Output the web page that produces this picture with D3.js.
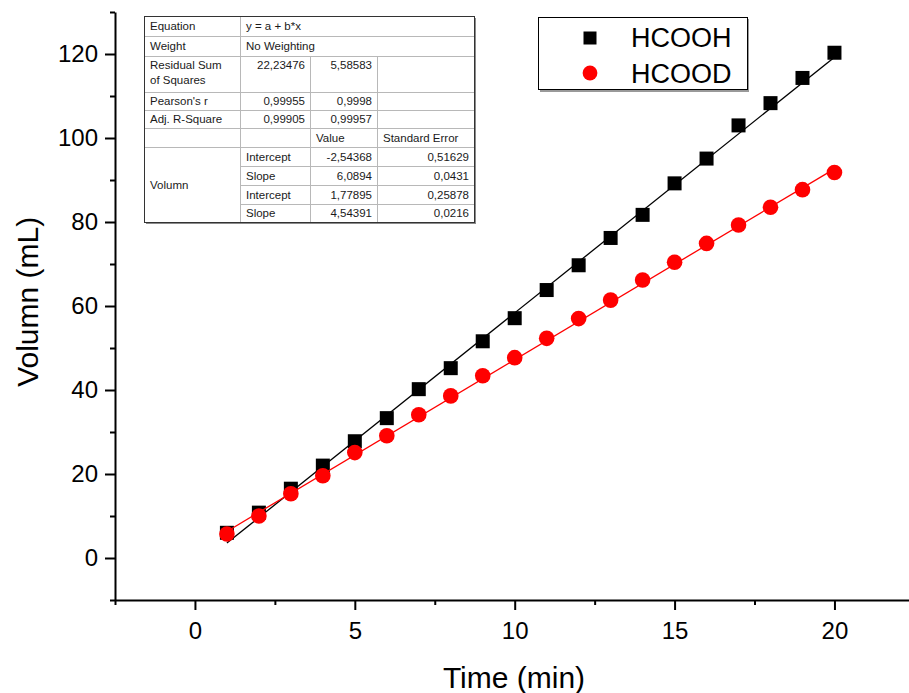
<!DOCTYPE html>
<html>
<head>
<meta charset="utf-8">
<script src="https://cdn.jsdelivr.net/npm/d3@7"></script>
<style>
  body { margin: 0; background: #fff; }
  svg { display: block; font-family: "Liberation Sans", Arial, sans-serif; }
  .axis path, .axis line { stroke: #000; stroke-width: 2; }
  .axis text { font-size: 24px; fill: #000; }
  .tbl text { font-size: 11.5px; fill: #1a1a1a; }
</style>
</head>
<body>
<script>
// Data
var times = [1, 2, 3, 4, 5, 6, 7, 8, 9, 10, 11, 12, 13, 14, 15, 16, 17, 18, 19, 20];
var hcooh = [6, 10.8, 16.5, 22, 27.8, 33.3, 40.2, 45.2, 51.6, 57.1, 63.8, 69.7, 76.2, 81.7, 89.2, 95.1, 103, 108.3, 114.3, 120.3];
var hcood = [5.7, 10, 15.3, 19.6, 25.1, 29.1, 34.1, 38.6, 43.4, 47.7, 52.3, 57, 61.4, 66.2, 70.4, 74.9, 79.3, 83.5, 87.7, 91.8];
var seriesNames = ['HCOOH', 'HCOOD'];

// Linear fit results (from the table)
var fitIntercept = [-2.54368, 1.77895];
var fitSlope = [6.0894, 4.54391];
var fitInterceptErr = ['0,51629', '0,25878'];
var fitSlopeErr = ['0,0431', '0,0216'];
var fitIntercepts = ['-2,54368', '1,77895'];
var fitSlopes = ['6,0894', '4,54391'];
var residualSS = ['22,23476', '5,58583'];
var pearsonR = ['0,99955', '0,9998'];
var adjR2 = ['0,99905', '0,99957'];

var xMajor = [0, 5, 10, 15, 20];
var xMinor = [-2.5, 2.5, 7.5, 12.5, 17.5, 22.5];
var yMajor = [0, 20, 40, 60, 80, 100, 120];
var yMinor = [-10, 10, 30, 50, 70, 90, 110, 130];

var W = 909, H = 693;
var svg = d3.select('body').append('svg')
  .attr('width', W)
  .attr('height', H);

var x = d3.scaleLinear().domain([-2.5, 22.5]).range([115, 914.4]);
var y = d3.scaleLinear().domain([-10, 130]).range([600, 12]);

// Axes
svg.append('g')
  .attr('class', 'axis')
  .attr('transform', 'translate(0,600)')
  .call(d3.axisBottom(x).tickValues(xMajor).tickSize(10).tickSizeOuter(0).tickPadding(12));
svg.append('g')
  .attr('class', 'axis')
  .attr('transform', 'translate(0,600)')
  .call(d3.axisBottom(x).tickValues(xMinor).tickSize(5).tickFormat(''))
  .select('.domain').remove();

svg.append('g')
  .attr('class', 'axis')
  .attr('transform', 'translate(115,0)')
  .call(d3.axisLeft(y).tickValues(yMajor).tickSize(10).tickSizeOuter(0).tickPadding(7));
svg.append('g')
  .attr('class', 'axis')
  .attr('transform', 'translate(115,0)')
  .call(d3.axisLeft(y).tickValues(yMinor).tickSize(5).tickFormat(''))
  .select('.domain').remove();

// Axis titles
svg.append('text')
  .attr('x', 514)
  .attr('y', 688)
  .attr('text-anchor', 'middle')
  .style('font-size', '30px')
  .text('Time (min)');
svg.append('text')
  .attr('transform', 'translate(38,' + y(61) + ') rotate(-90)')
  .attr('text-anchor', 'middle')
  .style('font-size', '30px')
  .text('Volumn (mL)');

// Fit lines + symbols
var colors = ['#000000', '#ff0000'];
var allSeries = [hcooh, hcood];
allSeries.forEach(function(vals, i) {
  var x0 = times[0], x1 = times[times.length - 1];
  svg.append('line')
    .attr('x1', x(x0)).attr('y1', y(fitIntercept[i] + fitSlope[i] * x0))
    .attr('x2', x(x1)).attr('y2', y(fitIntercept[i] + fitSlope[i] * x1))
    .attr('stroke', colors[i])
    .attr('stroke-width', 1.3);
  var pts = svg.append('g').selectAll('.pt').data(vals).enter();
  if (i === 0) {
    pts.append('rect')
      .attr('x', function(d, j) { return x(times[j]) - 7; })
      .attr('y', function(d) { return y(d) - 7; })
      .attr('width', 14).attr('height', 14)
      .attr('fill', colors[i]);
  } else {
    pts.append('circle')
      .attr('cx', function(d, j) { return x(times[j]); })
      .attr('cy', function(d) { return y(d); })
      .attr('r', 7.8)
      .attr('fill', colors[i]);
  }
});

// Legend
var legend = svg.append('g');
legend.append('rect')
  .attr('x', 540).attr('y', 19).attr('width', 209).attr('height', 73)
  .attr('fill', '#999');
legend.append('rect')
  .attr('x', 538.5).attr('y', 17.5).attr('width', 209).attr('height', 72)
  .attr('fill', '#fff').attr('stroke', '#000').attr('stroke-width', 1);
legend.append('rect')
  .attr('x', 583.5).attr('y', 31.5).attr('width', 13).attr('height', 13)
  .attr('fill', colors[0]);
legend.append('circle')
  .attr('cx', 590).attr('cy', 73).attr('r', 7.4)
  .attr('fill', colors[1]);
seriesNames.forEach(function(name, i) {
  legend.append('text')
    .attr('x', 631)
    .attr('y', 47 + i * 36)
    .style('font-size', '27px')
    .text(name);
});

// Fit parameter table
var colX = [144, 240, 310, 377, 474];
var rowY = [16, 36, 56, 92, 110, 128, 147, 166, 185, 204, 222];
var tbl = svg.append('g').attr('class', 'tbl');
tbl.append('rect')
  .attr('x', colX[0] + 2).attr('y', rowY[0] + 2)
  .attr('width', colX[4] - colX[0]).attr('height', rowY[10] - rowY[0])
  .attr('fill', '#8a8a8a');
tbl.append('rect')
  .attr('x', colX[0] + 0.5).attr('y', rowY[0] + 0.5)
  .attr('width', colX[4] - colX[0]).attr('height', rowY[10] - rowY[0])
  .attr('fill', '#fff');

var gridColor = '#b8b8b8';
function hline(xa, xb, yy) {
  tbl.append('line').attr('x1', xa).attr('x2', xb)
    .attr('y1', yy + 0.5).attr('y2', yy + 0.5)
    .attr('stroke', gridColor);
}
function vline(xx, ya, yb) {
  tbl.append('line').attr('x1', xx + 0.5).attr('x2', xx + 0.5)
    .attr('y1', ya).attr('y2', yb)
    .attr('stroke', gridColor);
}
for (var r = 1; r < 10; r++) {
  if (r >= 7) hline(colX[1], colX[4], rowY[r]);
  else hline(colX[0], colX[4], rowY[r]);
}
vline(colX[1], rowY[0], rowY[10]);
vline(colX[2], rowY[2], rowY[10]);
vline(colX[3], rowY[2], rowY[10]);

tbl.append('rect')
  .attr('x', colX[0] + 0.5).attr('y', rowY[0] + 0.5)
  .attr('width', colX[4] - colX[0]).attr('height', rowY[10] - rowY[0])
  .attr('fill', 'none').attr('stroke', '#333');

function cell(txt, col, yy, align) {
  var t = tbl.append('text').attr('y', yy).text(txt);
  if (align === 'right') t.attr('x', colX[col + 1] - 5).attr('text-anchor', 'end');
  else t.attr('x', colX[col] + 6);
}
function mid(r) { return (rowY[r] + rowY[r + 1]) / 2 + 4; }

cell('Equation', 0, mid(0));
cell('y = a + b*x', 1, mid(0));
cell('Weight', 0, mid(1));
cell('No Weighting', 1, mid(1));
cell('Residual Sum', 0, rowY[2] + 13);
cell('of Squares', 0, rowY[2] + 28);
cell(residualSS[0], 1, rowY[2] + 13, 'right');
cell(residualSS[1], 2, rowY[2] + 13, 'right');
cell("Pearson's r", 0, mid(3));
cell(pearsonR[0], 1, mid(3), 'right');
cell(pearsonR[1], 2, mid(3), 'right');
cell('Adj. R-Square', 0, mid(4));
cell(adjR2[0], 1, mid(4), 'right');
cell(adjR2[1], 2, mid(4), 'right');
cell('Value', 2, mid(5));
cell('Standard Error', 3, mid(5));
cell('Volumn', 0, (rowY[6] + rowY[10]) / 2 + 4);
for (var k = 0; k < 2; k++) {
  cell('Intercept', 1, mid(6 + 2 * k));
  cell(fitIntercepts[k], 2, mid(6 + 2 * k), 'right');
  cell(fitInterceptErr[k], 3, mid(6 + 2 * k), 'right');
  cell('Slope', 1, mid(7 + 2 * k));
  cell(fitSlopes[k], 2, mid(7 + 2 * k), 'right');
  cell(fitSlopeErr[k], 3, mid(7 + 2 * k), 'right');
}
</script>
</body>
</html>
